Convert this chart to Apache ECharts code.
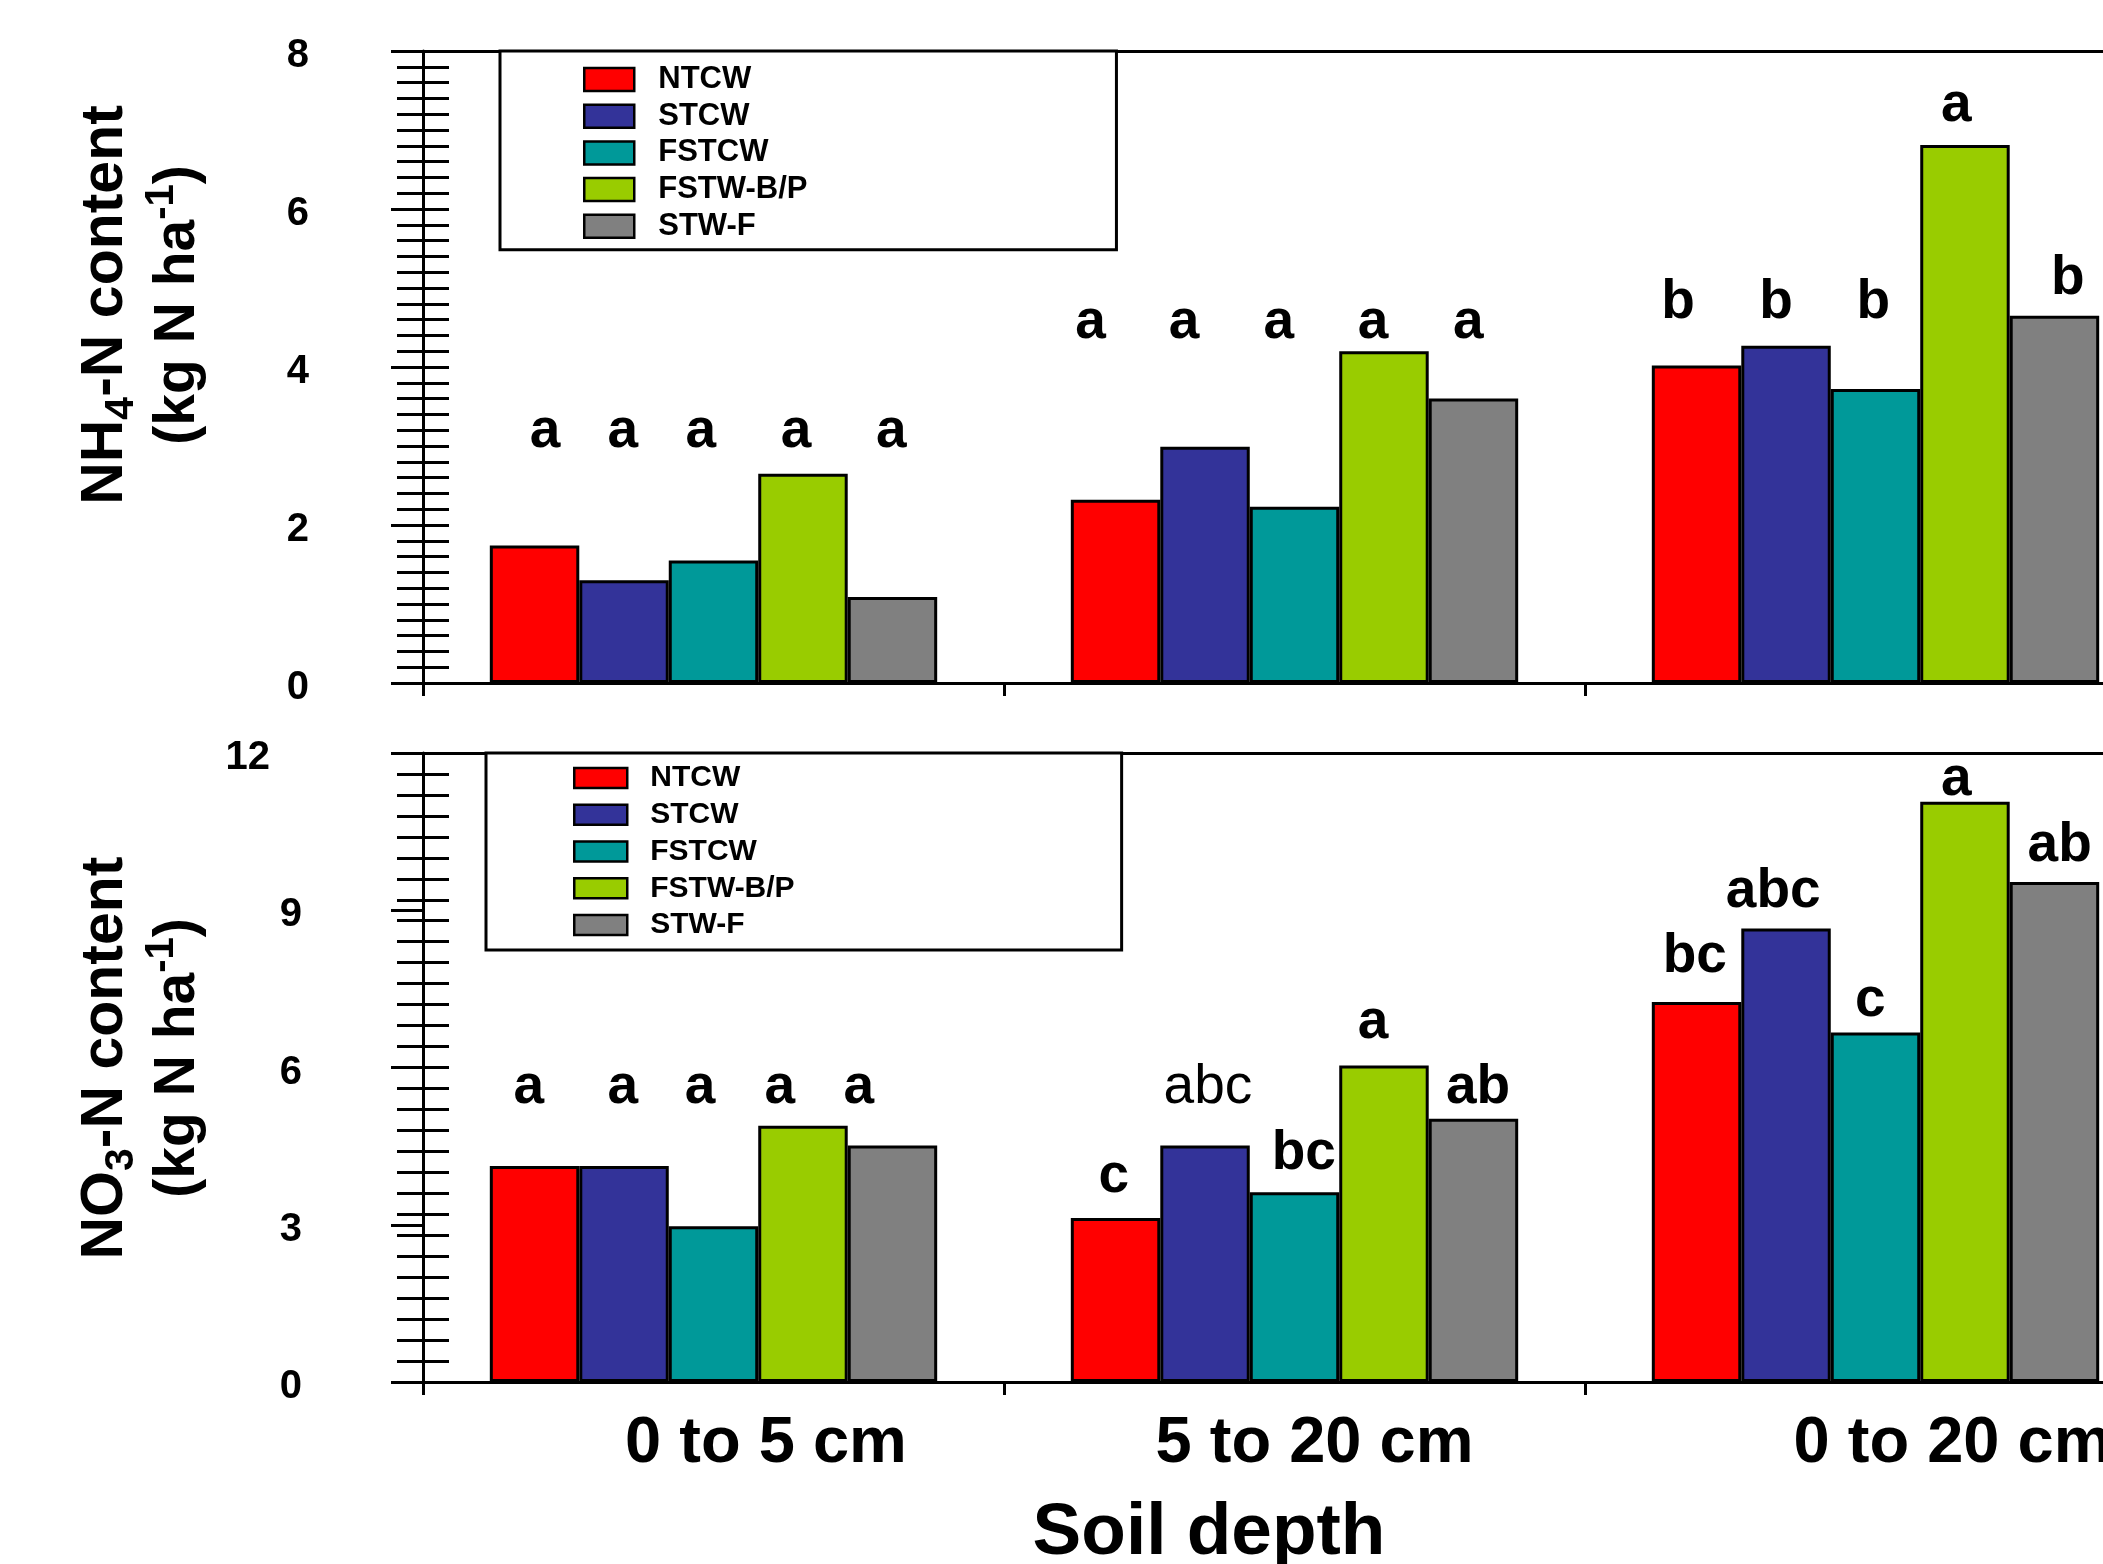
<!DOCTYPE html>
<html><head><meta charset="utf-8">
<script src="https://cdn.jsdelivr.net/npm/echarts@6/dist/echarts.min.js"></script>
<style>html,body{margin:0;padding:0;background:#fff}#c{width:2103px;height:1564px}</style>
</head><body><div id="c"></div>
<script>
// ---------------- DATA ----------------
const categories = ['0 to 5 cm', '5 to 20 cm', '0 to 20 cm'];
const treatments = ['NTCW', 'STCW', 'FSTCW', 'FSTW-B/P', 'STW-F'];

// NH4-N content (kg N ha-1) per treatment, across the three depths
const nh4NTCW   = [1.74, 2.32, 4.02];
const nh4STCW   = [1.30, 2.99, 4.27];
const nh4FSTCW  = [1.55, 2.23, 3.72];
const nh4FSTWBP = [2.65, 4.20, 6.81];
const nh4STWF   = [1.09, 3.60, 4.65];

// NO3-N content (kg N ha-1)
const no3NTCW   = [4.12, 3.13, 7.25];
const no3STCW   = [4.12, 4.51, 8.65];
const no3FSTCW  = [2.97, 3.62, 6.67];
const no3FSTWBP = [4.89, 6.04, 11.07];
const no3STWF   = [4.51, 5.02, 9.54];

// significance letters [depth][treatment]
const nh4Letters = [['a','a','a','a','a'], ['a','a','a','a','a'], ['b','b','b','a','b']];
const no3Letters = [['a','a','a','a','a'], ['c','abc','bc','a','ab'], ['bc','abc','c','a','ab']];

// tick values
const nh4Ticks = [0, 2, 4, 6, 8];
const no3Ticks = [0, 3, 6, 9, 12];

// ---------------- ANNOTATION PLACEMENT (axis units) ----------------
const nh4LetterX = [[0.210,0.344,0.478,0.642,0.806],[1.149,1.310,1.473,1.635,1.799],[2.160,2.329,2.496,2.639,2.831]];
const nh4LetterY = [[3.18,3.18,3.18,3.18,3.18],[4.56,4.56,4.56,4.56,4.56],[4.81,4.81,4.81,7.30,5.11]];
const no3LetterX = [[0.182,0.344,0.477,0.614,0.750],[1.189,1.351,1.516,1.635,1.816],[2.189,2.324,2.491,2.639,2.817]];
const no3LetterY = [[5.62,5.62,5.62,5.62,5.62],[3.91,5.62,4.36,6.86,5.62],[8.12,9.35,7.28,11.48,10.22]];

// ---------------- STYLE ----------------
const FONT = '"Liberation Sans", Arial, Helvetica, sans-serif';
const colors = ['#FF0000', '#333399', '#009999', '#99CC00', '#808080'];
const nh4Values = [nh4NTCW, nh4STCW, nh4FSTCW, nh4FSTWBP, nh4STWF];
const no3Values = [no3NTCW, no3STCW, no3FSTCW, no3FSTWBP, no3STWF];

const chart = echarts.init(document.getElementById('c'), null, {renderer: 'canvas'});

const black = '#000';
function catAxis(gridIndex, showLabels) {
  return {
    type: 'category', gridIndex, data: categories, position: 'bottom', boundaryGap: true,
    axisLine: {show: true, onZero: false, lineStyle: {color: black, width: 3}},
    axisTick: {show: true, length: 13, inside: false, lineStyle: {color: black, width: 3}},
    splitLine: {show: false},
    axisLabel: showLabels ? {
      show: true, interval: 0, margin: 30, color: black, hideOverlap: false,
      formatter: (v, i) => '{c' + i + '|' + v + '}',
      rich: {
        c0: {fontSize: 65, fontWeight: 'bold', fontFamily: FONT, lineHeight: 65, color: black, padding: [0,0,0,105]},
        c1: {fontSize: 65, fontWeight: 'bold', fontFamily: FONT, lineHeight: 65, color: black, padding: [0,0,0,40]},
        c2: {fontSize: 65, fontWeight: 'bold', fontFamily: FONT, lineHeight: 65, color: black, padding: [0,0,0,154]}
      }
    } : {show: false}
  };
}
function topAxis(gridIndex) {
  return {
    type: 'value', gridIndex, min: 0, max: 3, position: 'top',
    axisLine: {show: true, onZero: false, lineStyle: {color: black, width: 3}},
    axisTick: {show: false}, axisLabel: {show: false}, splitLine: {show: false}
  };
}
function mainY(gridIndex, max, interval, margin) {
  return {
    type: 'value', gridIndex, min: 0, max, interval, position: 'left',
    axisLine: {show: true, onZero: false, lineStyle: {color: black, width: 3}},
    axisTick: {show: true, length: 32, inside: false, lineStyle: {color: black, width: 3}},
    splitLine: {show: false},
    axisLabel: {show: true, margin, color: black,
      formatter: v => (v === 12 ? '{t|12}' : '{n|' + v + '}'),
      rich: {
        n: {fontSize: 40, fontWeight: 'bold', fontFamily: FONT, color: black, padding: [10, 0, 0, 0]},
        t: {fontSize: 40, fontWeight: 'bold', fontFamily: FONT, color: black, padding: [10, 32, 0, 0]}
      }}
  };
}
function minorY(gridIndex, max, interval, inside) {
  return {
    type: 'value', gridIndex, min: 0, max, interval, position: 'left',
    axisLine: {show: false, onZero: false},
    axisTick: {show: true, length: 26, inside, lineStyle: {color: black, width: 3}},
    axisLabel: {show: false}, splitLine: {show: false}
  };
}

const series = [];
[nh4Values, no3Values].forEach((vals, p) => {
  treatments.forEach((name, t) => {
    series.push({
      type: 'bar', name, xAxisIndex: p * 2, yAxisIndex: p * 3, data: vals[t],
      barGap: '0%', barCategoryGap: '23%', z: 2,
      itemStyle: {color: colors[t], borderColor: black, borderWidth: 3},
      emphasis: {disabled: true}
    });
  });
});

function letterSeries(p, letters, lx, ly) {
  const data = [];
  letters.forEach((row, c) => row.forEach((l, t) => {
    const item = {name: l, value: [lx[c][t], ly[c][t]]};
    if (p === 1 && c === 1 && t === 1) item.label = {fontWeight: 'normal'};
    data.push(item);
  }));
  return {
    type: 'scatter', xAxisIndex: p * 2 + 1, yAxisIndex: p * 3, data, symbolSize: 1, z: 1, silent: true,
    itemStyle: {color: 'rgba(0,0,0,0)', opacity: 1},
    label: {show: true, position: 'inside', formatter: '{b}', fontSize: 55, fontWeight: 'bold',
            fontFamily: FONT, color: black, opacity: 1, textBorderWidth: 0},
    emphasis: {disabled: true}
  };
}
series.push(letterSeries(0, nh4Letters, nh4LetterX, nh4LetterY));
series.push(letterSeries(1, no3Letters, no3LetterX, no3LetterY));

function legend(top, left, fontSize, iw, ih, gap, pad, textPad) {
  return {
    orient: 'vertical', top, left, data: treatments, selectedMode: false,
    icon: 'rect', itemWidth: iw, itemHeight: ih, itemGap: gap, padding: pad,
    borderColor: black, borderWidth: 3, backgroundColor: '#fff',
    itemStyle: {borderColor: black, borderWidth: 2.5},
    textStyle: {fontSize, fontWeight: 'bold', fontFamily: FONT, color: black, padding: [0, 0, 0, textPad]}
  };
}

function axisTitle(x, y, ion, sub) {
  const m1 = {fontSize: 59, fontWeight: 'bold', fontFamily: FONT, fill: black, lineHeight: 72};
  const m2 = {fontSize: 57, fontWeight: 'bold', fontFamily: FONT, fill: black, lineHeight: 72};
  return {
    type: 'text', x, y, rotation: Math.PI / 2, silent: true,
    style: {
      text: '{m1|' + ion + '}{s|' + sub + '}{m1|-N content}\n{m2|(kg N ha}{p|-1}{m2|)}',
      align: 'center', verticalAlign: 'middle', fill: black,
      fontSize: 57, fontWeight: 'bold', fontFamily: FONT,
      rich: {
        m1: m1, m2: m2,
        s: {fontSize: 41, fontWeight: 'bold', fontFamily: FONT, fill: black, lineHeight: 29, verticalAlign: 'bottom'},
        p: {fontSize: 40, fontWeight: 'bold', fontFamily: FONT, fill: black, lineHeight: 56, verticalAlign: 'top'}
      }
    }
  };
}

const option = {
  animation: false,
  backgroundColor: '#fff',
  textStyle: {fontFamily: FONT},
  grid: [
    {left: 423, width: 1743, top: 51, height: 632, outerBoundsMode: 'none', containLabel: false},
    {left: 423, width: 1743, top: 753, height: 629, outerBoundsMode: 'none', containLabel: false}
  ],
  xAxis: [catAxis(0, false), topAxis(0), catAxis(1, true), topAxis(1)],
  yAxis: [
    mainY(0, 8, 2, 114),
    minorY(0, 8, 0.2, false),
    minorY(0, 8, 0.2, true),
    mainY(1, 12, 3, 121),
    minorY(1, 12, 0.4, false),
    minorY(1, 12, 0.4, true)
  ],
  legend: [
    legend(51, 500, 31, 50, 23, 5.7, [13, 309, 8, 83], 19),
    legend(753, 486, 30, 53, 20, 6.75, [10, 327, 10, 87], 18)
  ],
  series,
  graphic: [
    axisTitle(142, 305, 'NH', '4'),
    axisTitle(142, 1058, 'NO', '3'),
    {type: 'text', x: 1209, y: 1534, silent: true,
     style: {text: 'Soil depth', align: 'center', verticalAlign: 'middle', fill: black,
             font: 'bold 73px ' + FONT}}
  ]
};
chart.setOption(option);
</script>
</body></html>
